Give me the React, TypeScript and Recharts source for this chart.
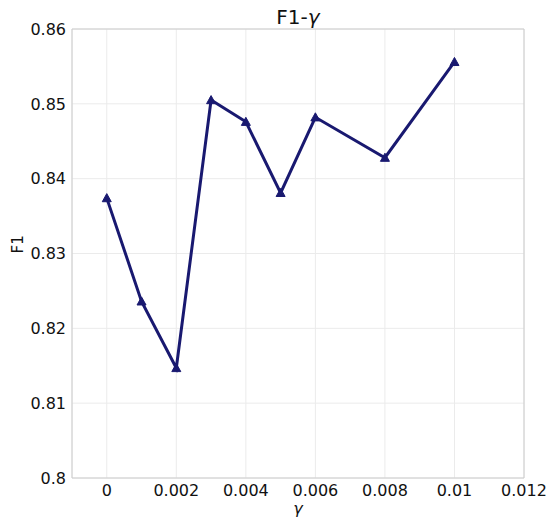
import { LineChart, Line, XAxis, YAxis, CartesianGrid, ReferenceLine } from 'recharts'

const gammas = [0, 0.001, 0.002, 0.003, 0.004, 0.005, 0.006, 0.008, 0.01]
const f1Scores = [0.8374, 0.8236, 0.8147, 0.8505, 0.8476, 0.8381, 0.8482, 0.8428, 0.8556]
const xTicks = [0, 0.002, 0.004, 0.006, 0.008, 0.01, 0.012]
const yTicks = [0.8, 0.81, 0.82, 0.83, 0.84, 0.85, 0.86]

const data = gammas.map((g, i) => ({ gamma: g, f1: f1Scores[i] }))

const lineColor = '#191970'
const font = 'DejaVu Sans, sans-serif'
const fmt = (v: number) => String(parseFloat(v.toFixed(4)))

const Triangle = (props: any) => {
  const { cx, cy } = props
  if (cx == null || cy == null) return null
  const s = 4.5
  return (
    <polygon
      points={`${cx},${cy - s} ${cx - s},${cy + s * 0.8} ${cx + s},${cy + s * 0.8}`}
      fill={lineColor}
      stroke={lineColor}
      strokeWidth={1}
    />
  )
}

export default function App() {
  return (
    <div style={{ position: 'absolute', left: 0, top: 0, width: 553, height: 521, background: '#fff', fontFamily: font }}>
      <LineChart width={553} height={521} data={data} margin={{ top: 29, right: 29, left: 0, bottom: 0 }}>
        <text x={298} y={24} textAnchor="middle" fontSize={20} fill="#111" fontFamily={font}>
          F1-<tspan fontStyle="italic">γ</tspan>
        </text>
        <CartesianGrid stroke="#ebebeb" />
        <XAxis
          dataKey="gamma"
          type="number"
          domain={[-0.001, 0.012]}
          ticks={xTicks}
          tickFormatter={fmt}
          allowDataOverflow
          stroke="#cccccc"
          tickLine={false}
          height={43}
          tick={{ fontSize: 16, fill: '#111', fontFamily: font }}
          tickMargin={1}
          label={{ value: 'γ', position: 'insideBottom', offset: 7, fontSize: 16, fill: '#111', fontStyle: 'italic', fontFamily: font }}
        />
        <YAxis
          type="number"
          domain={[0.8, 0.86]}
          ticks={yTicks}
          tickFormatter={fmt}
          allowDataOverflow
          stroke="#cccccc"
          tickLine={false}
          width={72}
          tick={{ fontSize: 16, fill: '#111', fontFamily: font }}
          tickMargin={0}
          label={{ value: 'F1', angle: -90, position: 'insideLeft', offset: 18, fontSize: 15, fill: '#111', fontFamily: font }}
        />
        <ReferenceLine x={0.012} stroke="#cccccc" />
        <ReferenceLine y={0.86} stroke="#cccccc" />
        <Line
          type="linear"
          dataKey="f1"
          stroke={lineColor}
          strokeWidth={3}
          dot={<Triangle />}
          activeDot={false}
          isAnimationActive={false}
        />
      </LineChart>
    </div>
  )
}
